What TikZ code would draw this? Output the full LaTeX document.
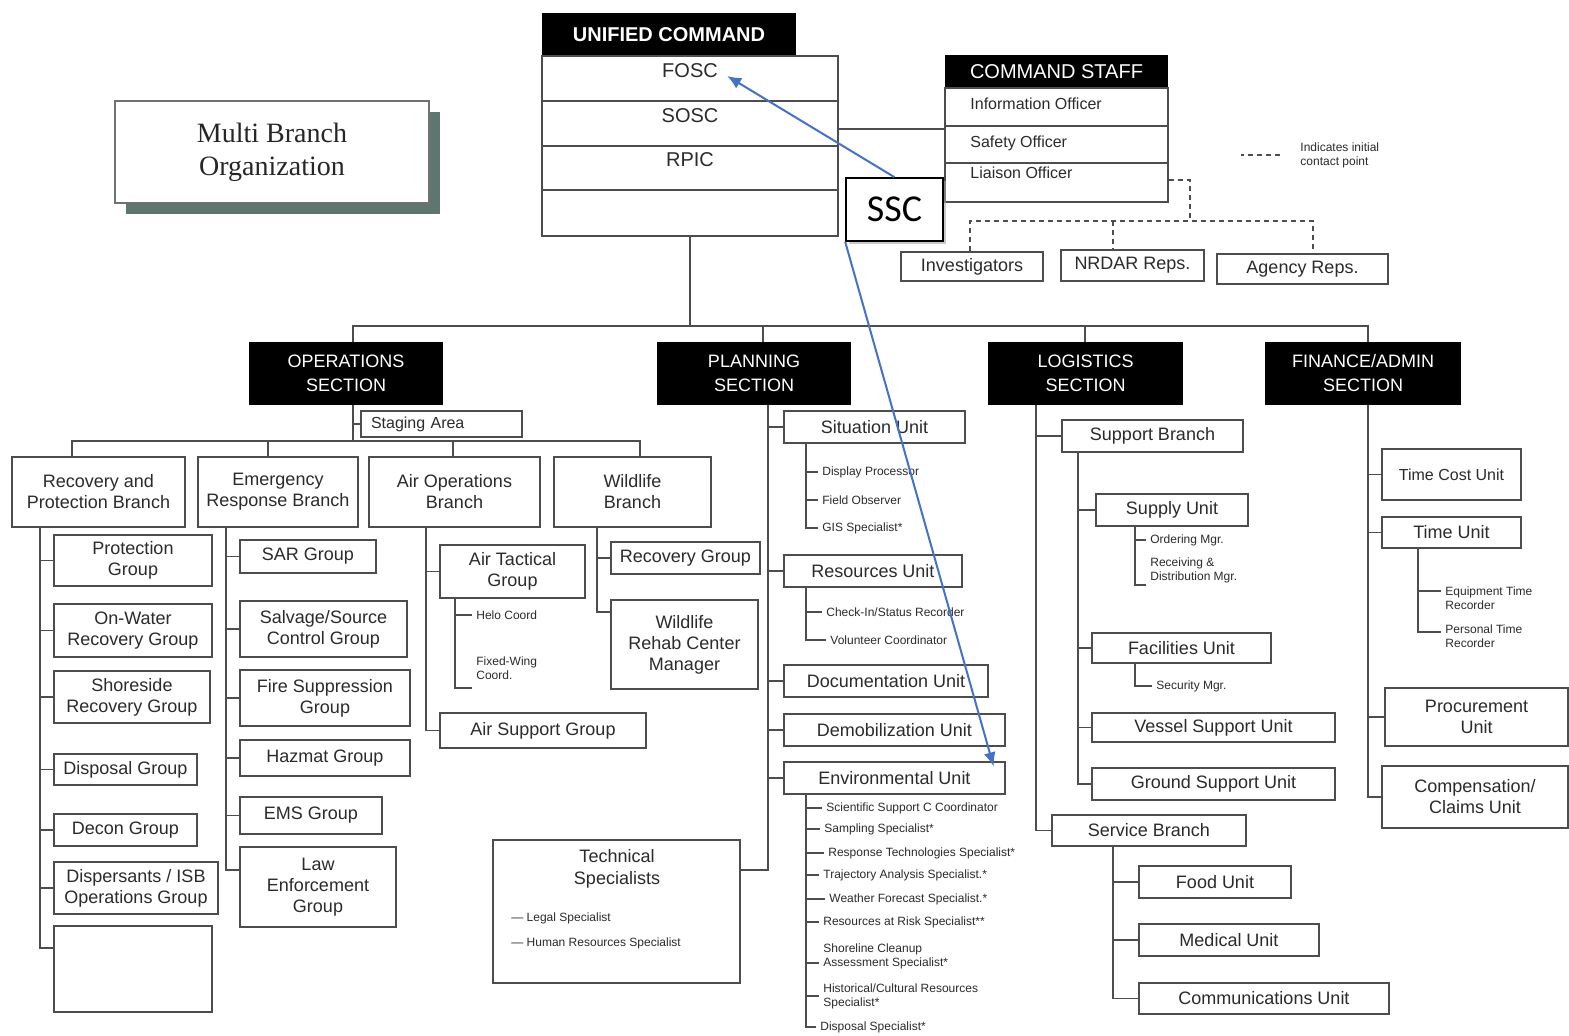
\documentclass[tikz,border=0pt]{standalone}
\usepackage{fontspec}
\setmainfont{Liberation Sans}
\newfontfamily\mbfont{Liberation Serif}
\newfontfamily\sscfont{Carlito}
\usetikzlibrary{arrows.meta,shadows}
\definecolor{ln}{HTML}{4D4D4D}
\definecolor{txt}{HTML}{2B2B2B}
\definecolor{sscblue}{HTML}{4472C4}
\definecolor{mbshade}{HTML}{5F7570}

\begin{document}
\begin{tikzpicture}[%
      x=0.5pt, y=-0.5pt,
      box/.style={draw=ln, line width=0.6pt, fill=white, inner sep=0pt, align=center,
        text=txt, font=\fontsize{9}{10.5}\selectfont},
      hdr/.style={fill=black, inner sep=0pt, align=center, text=white,
        font=\fontsize{9}{12}\selectfont},
      item/.style={anchor=west, inner xsep=2pt, inner ysep=0pt, align=left, text=txt,
        font=\fontsize{6}{7}\selectfont},
      lnk/.style={draw=ln, line width=0.6pt},
      contact/.style={lnk, dash pattern=on 2.5pt off 2pt},
      ssclink/.style={draw=sscblue, line width=1pt, -{Latex[length=7pt,width=6pt]}},
      ]
      \fill[white] (0,0) rectangle (1569,1036);
      \useasboundingbox (0,0) rectangle (1569,1036);

      % title
      \node[box, draw=ln!80, line width=0.8pt, minimum width=157pt, minimum height=51pt,
        font=\mbfont\fontsize{14}{16.5}\selectfont, text=black!85,
        drop shadow={shadow xshift=5.5pt, shadow yshift=-5.5pt, fill=mbshade, opacity=1}]
        (mbo) at (272,152) {Multi Branch\\Organization};

      % unified command
      \node[hdr, minimum width=127pt, minimum height=21.5pt,
        font=\bfseries\fontsize{10}{12}\selectfont] (uc) at (669,34.5) {UNIFIED COMMAND};
      \node[box, minimum width=148pt, minimum height=90pt] (ucb) at (690,146) {};
      \draw[lnk] (ucb.west |- 0,101) -- (ucb.east |- 0,101);
      \draw[lnk] (ucb.west |- 0,146) -- (ucb.east |- 0,146);
      \draw[lnk] (ucb.west |- 0,190) -- (ucb.east |- 0,190);
      \node[text=txt, inner sep=1.5pt, font=\fontsize{10}{12}\selectfont] (fosc) at (690,71) {FOSC};
      \node[text=txt, inner sep=1.5pt, font=\fontsize{10}{12}\selectfont] (sosc) at (690,116) {SOSC};
      \node[text=txt, inner sep=1.5pt, font=\fontsize{10}{12}\selectfont] (rpic) at (690,160) {RPIC};

      % command staff
      \node[hdr, minimum width=111.5pt, minimum height=16.5pt,
        font=\fontsize{10}{12}\selectfont] (cs) at (1056.5,71.5) {COMMAND STAFF};
      \node[box, minimum width=111.5pt, minimum height=57pt] (csb) at (1056.5,145) {};
      \draw[lnk] (csb.west |- 0,126) -- (csb.east |- 0,126);
      \draw[lnk] (csb.west |- 0,163) -- (csb.east |- 0,163);
      \node[item, font=\fontsize{8}{9}\selectfont] (io) at (966,104) {Information Officer};
      \node[item, font=\fontsize{8}{9}\selectfont] (so) at (966,143) {Safety Officer};
      \node[item, font=\fontsize{8}{9}\selectfont] (lo) at (966,173) {Liaison Officer};
      \draw[lnk] (ucb.east |- 0,129) -- (csb.west |- 0,129);

      % SSC
      \node[draw=black, line width=0.8pt, fill=white, minimum width=48.5pt, minimum height=31.5pt,
        inner sep=0pt, font=\sscfont\fontsize{19}{22}\selectfont,
        drop shadow={shadow xshift=1.5pt, shadow yshift=-1.5pt, fill=black!35, opacity=.6}]
        (ssc) at (894.5,209.5) {SSC};

      % initial contact points
      \node[box] [minimum width=71pt, minimum height=14.5pt] (inv) at (972,266.5) {Investigators};
      \node[box] [minimum width=71.5pt, minimum height=15.5pt] (nrd) at (1132.5,265.5) {NRDAR Reps.};
      \node[box] [minimum width=85.5pt, minimum height=15pt] (agr) at (1302.5,269) {Agency Reps.};
      \coordinate (cbus) at (1190,221);
      \draw[contact] (csb.east |- 0,180) -| (cbus);
      \draw[contact] (inv.north -| 970,0) -- (970,221) -- (1313,221) -- (agr.north -| 1313,0);
      \draw[contact] (1113,221) -- (nrd.north -| 1113,0);
      \node[item] (lgd) at (1296,155) {Indicates initial\\contact point};
      \draw[contact] ([xshift=-8pt]lgd.west) -- ++(-19.5pt,0);

      % sections
      \node[hdr, minimum width=97pt, minimum height=31.5pt] (ops) at (346,373.5) {OPERATIONS\\SECTION};
      \node[hdr, minimum width=97pt, minimum height=31.5pt] (pln) at (754,373.5) {PLANNING\\SECTION};
      \node[hdr, minimum width=97.5pt, minimum height=31.5pt] (lgs) at (1085.5,373.5) {LOGISTICS\\SECTION};
      \node[hdr, minimum width=98pt, minimum height=31.5pt] (fin) at (1363,373.5) {FINANCE/ADMIN\\SECTION};
      \draw[lnk] (ucb.south) -- (690,326);
      \draw[lnk] (ops.north -| 353,0) -- (353,326) -- (1368,326) -- (fin.north -| 1368,0);
      \draw[lnk] (pln.north -| 763,0) -- (763,326);
      \draw[lnk] (lgs.north -| 1085,0) -- (1085,326);

      % operations
      \node[box, minimum width=80.5pt, minimum height=13pt, text width=70.5pt, inner xsep=5pt,
        align=left, font=\fontsize{8}{9}\selectfont] (stg) at (441.5,424) {Staging Area};
      \draw[lnk] (ops.south -| 353,0) -- (353,441);
      \draw[lnk] (353,0 |- stg.west) -- (stg.west);
      \node[box, minimum width=86.5pt, minimum height=35pt] (rpb) at (98.5,492) {Recovery and\\Protection Branch};
      \node[box, minimum width=80pt, minimum height=35pt] (erb) at (278,492) {Emergency\\Response Branch};
      \node[box, minimum width=85.5pt, minimum height=35pt] (aob) at (454.5,492) {Air Operations\\Branch};
      \node[box, minimum width=78.5pt, minimum height=35pt] (wlb) at (632.5,492) {Wildlife\\Branch};
      \draw[lnk] (rpb.north -| 72,0) -- (72,441) -- (640,441) -- (wlb.north -| 640,0);
      \draw[lnk] (268,441) -- (erb.north -| 268,0);
      \draw[lnk] (453,441) -- (aob.north -| 453,0);

      \node[box, minimum width=79pt, minimum height=25.5pt] (pg) at (133,560.5) {Protection\\Group};
      \node[box, minimum width=79pt, minimum height=26.5pt] (owr) at (133,630.5) {On-Water\\Recovery Group};
      \node[box, minimum width=78pt, minimum height=26pt] (srg) at (132,697) {Shoreside\\Recovery Group};
      \node[box, minimum width=71.5pt, minimum height=15.5pt] (dg) at (125.5,769.5) {Disposal Group};
      \node[box, minimum width=71.5pt, minimum height=16pt] (dcg) at (125.5,830) {Decon Group};
      \node[box, minimum width=82pt, minimum height=26pt] (dis) at (136,888) {Dispersants / ISB\\Operations Group};
      \node[box, minimum width=79pt, minimum height=43pt] (e1) at (133,969) {};
      \draw[lnk] (rpb.south -| 40,0) -- (40,948) -- (e1.west |- 0,948);
      \draw[lnk] (40,0 |- pg.west) -- (pg.west);
      \draw[lnk] (40,0 |- owr.west) -- (owr.west);
      \draw[lnk] (40,0 |- srg.west) -- (srg.west);
      \draw[lnk] (40,0 |- dg.west) -- (dg.west);
      \draw[lnk] (40,0 |- dcg.west) -- (dcg.west);
      \draw[lnk] (40,0 |- dis.west) -- (dis.west);

      \node[box, minimum width=68pt, minimum height=16.5pt] (sar) at (308,556.5) {SAR Group};
      \node[box, minimum width=83.5pt, minimum height=28pt] (ssg) at (323.5,629) {Salvage/Source\\Control Group};
      \node[box, minimum width=85pt, minimum height=28pt] (fsg) at (325,698) {Fire Suppression\\Group};
      \node[box, minimum width=85pt, minimum height=18pt] (hzg) at (325,758) {Hazmat Group};
      \node[box, minimum width=71pt, minimum height=18.5pt] (ems) at (311,815.5) {EMS Group};
      \node[box, minimum width=78pt, minimum height=40pt] (lef) at (318,887) {Law\\Enforcement\\Group};
      \draw[lnk] (erb.south -| 226,0) -- (226,870) -- (lef.west |- 0,870);
      \draw[lnk] (226,0 |- sar.west) -- (sar.west);
      \draw[lnk] (226,0 |- ssg.west) -- (ssg.west);
      \draw[lnk] (226,0 |- fsg.west) -- (fsg.west);
      \draw[lnk] (226,0 |- hzg.west) -- (hzg.west);
      \draw[lnk] (226,0 |- ems.west) -- (ems.west);

      \node[box, minimum width=72.5pt, minimum height=26.5pt] (atg) at (512.5,571.5) {Air Tactical\\Group};
      \node[box, minimum width=103pt, minimum height=17.5pt] (asg) at (543,730.5) {Air Support Group};
      \draw[lnk] (aob.south -| 426,0) -- (426,0 |- asg.west) -- (asg.west);
      \draw[lnk] (426,0 |- atg.west) -- (atg.west);
      \node[item] (hc) at (472,615) {Helo Coord};
      \node[item] (fwc) at (472,668) {Fixed-Wing\\Coord.};
      \draw[lnk] (atg.south -| 455,0) -- (455,688) -- (fwc.west |- 0,688);
      \draw[lnk] (455,0 |- hc.west) -- (hc.west);

      \node[box, minimum width=74.5pt, minimum height=16pt] (rg) at (685.5,558) {Recovery Group};
      \node[box, minimum width=73.5pt, minimum height=44.5pt] (wrc) at (684.5,644.5) {Wildlife\\Rehab Center\\Manager};
      \draw[lnk] (wlb.south -| 597,0) -- (597,612) -- (wrc.west |- 0,612);
      \draw[lnk] (597,0 |- rg.west) -- (rg.west);

      % planning
      \node[box, minimum width=90.5pt, minimum height=16pt] (su) at (874.5,427) {Situation Unit};
      \node[box, minimum width=89pt, minimum height=16pt] (ru) at (873,571) {Resources Unit};
      \node[box, minimum width=102pt, minimum height=16pt] (du) at (886,681) {Documentation Unit};
      \node[box, minimum width=110.5pt, minimum height=16pt] (dmu) at (894.5,730) {Demobilization Unit};
      \node[box, minimum width=110.5pt, minimum height=16pt] (env) at (894.5,778) {Environmental Unit};
      \node[box, minimum width=123.5pt, minimum height=71.5pt] (tsp) at (616.5,911.5) {};
      \node[text=txt, align=center, inner sep=0pt, font=\fontsize{9}{11}\selectfont] (tst) at (617,869) {Technical\\Specialists};
      \node[item] (lsp) at (507,918) {— Legal Specialist};
      \node[item] (hrs) at (507,943) {— Human Resources Specialist};
      \draw[lnk] (pln.south -| 768,0) -- (768,870) -- (tsp.east |- 0,870);
      \draw[lnk] (768,0 |- su.west) -- (su.west);
      \draw[lnk] (768,0 |- ru.west) -- (ru.west);
      \draw[lnk] (768,0 |- du.west) -- (du.west);
      \draw[lnk] (768,0 |- dmu.west) -- (dmu.west);
      \draw[lnk] (768,0 |- env.west) -- (env.west);

      \node[item] (dpp) at (818,472) {Display Processor};
      \node[item] (fob) at (818,500) {Field Observer};
      \node[item] (gis) at (818,528) {GIS Specialist*};
      \draw[lnk] (su.south -| 806,0) -- (806,0 |- gis.west) -- (gis.west);
      \draw[lnk] (806,0 |- dpp.west) -- (dpp.west);
      \draw[lnk] (806,0 |- fob.west) -- (fob.west);

      \node[item] (cis) at (822,612) {Check-In/Status Recorder};
      \node[item] (vco) at (826,640) {Volunteer Coordinator};
      \draw[lnk] (ru.south -| 806,0) -- (806,0 |- vco.west) -- (vco.west);
      \draw[lnk] (806,0 |- cis.west) -- (cis.west);

      \node[item] (ssco) at (822,808) {Scientific Support C Coordinator};
      \node[item] (smp) at (820,829) {Sampling Specialist*};
      \node[item] (rts) at (824,853) {Response Technologies Specialist*};
      \node[item] (tas) at (819,875) {Trajectory Analysis Specialist.*};
      \node[item] (wfs) at (825,899) {Weather Forecast Specialist.*};
      \node[item] (rar) at (819,922) {Resources at Risk Specialist**};
      \node[item] (sca) at (819,956) {Shoreline Cleanup\\Assessment  Specialist*};
      \node[item] (hcr) at (819,996) {Historical/Cultural Resources\\Specialist*};
      \node[item] (dsp) at (816,1027) {Disposal Specialist*};
      \draw[lnk] (env.south -| 806,0) -- (806,0 |- dsp.west) -- (dsp.west);
      \draw[lnk] (806,0 |- ssco.west) -- (ssco.west);
      \draw[lnk] (806,0 |- smp.west) -- (smp.west);
      \draw[lnk] (806,0 |- rts.west) -- (rts.west);
      \draw[lnk] (806,0 |- tas.west) -- (tas.west);
      \draw[lnk] (806,0 |- wfs.west) -- (wfs.west);
      \draw[lnk] (806,0 |- rar.west) -- (rar.west);
      \draw[lnk] (806,963) -- (sca.west |- 0,963);
      \draw[lnk] (806,0 |- hcr.west) -- (hcr.west);

      % logistics
      \node[box, minimum width=90.5pt, minimum height=16pt] (sbr) at (1152.5,436) {Support Branch};
      \node[box, minimum width=97pt, minimum height=15.5pt] (svb) at (1149,830.5) {Service Branch};
      \draw[lnk] (lgs.south -| 1036,0) -- (1036,0 |- svb.west) -- (svb.west);
      \draw[lnk] (1036,0 |- sbr.west) -- (sbr.west);

      \node[box, minimum width=76pt, minimum height=16pt] (sup) at (1172,510) {Supply Unit};
      \node[box, minimum width=89.5pt, minimum height=15pt] (fac) at (1181.5,648) {Facilities Unit};
      \node[box, minimum width=121.5pt, minimum height=14.5pt] (vsu) at (1213.5,727.5) {Vessel Support Unit};
      \node[box, minimum width=121.5pt, minimum height=16pt] (gsu) at (1213.5,784) {Ground Support Unit};
      \draw[lnk] (sbr.south -| 1078,0) -- (1078,0 |- gsu.west) -- (gsu.west);
      \draw[lnk] (1078,0 |- sup.west) -- (sup.west);
      \draw[lnk] (1078,0 |- fac.west) -- (fac.west);
      \draw[lnk] (1078,0 |- vsu.west) -- (vsu.west);

      \node[item] (omg) at (1146,540) {Ordering Mgr.};
      \node[item] (rdm) at (1146,570) {Receiving \&\\Distribution Mgr.};
      \draw[lnk] (sup.south -| 1135,0) -- (1135,585) -- (rdm.west |- 0,585);
      \draw[lnk] (1135,0 |- omg.west) -- (omg.west);
      \node[item] (smg) at (1152,686) {Security Mgr.};
      \draw[lnk] (fac.south -| 1135,0) -- (1135,0 |- smg.west) -- (smg.west);

      \node[box, minimum width=76pt, minimum height=16pt] (food) at (1215,882) {Food Unit};
      \node[box, minimum width=90pt, minimum height=16pt] (med) at (1229,940) {Medical Unit};
      \node[box, minimum width=125pt, minimum height=15.5pt] (com) at (1264,998.5) {Communications Unit};
      \draw[lnk] (svb.south -| 1113,0) -- (1113,0 |- com.west) -- (com.west);
      \draw[lnk] (1113,0 |- food.west) -- (food.west);
      \draw[lnk] (1113,0 |- med.west) -- (med.west);

      % finance / admin
      \node[box, minimum width=69.5pt, minimum height=25.5pt, font=\fontsize{8}{9.5}\selectfont] (tcu) at (1451.5,474.5) {Time Cost Unit};
      \node[box, minimum width=69.5pt, minimum height=15.5pt] (tu) at (1451.5,532.5) {Time Unit};
      \node[box, minimum width=91.5pt, minimum height=29pt] (prc) at (1476.5,717) {Procurement\\Unit};
      \node[box, minimum width=93pt, minimum height=31pt] (ccu) at (1475,797) {Compensation/\\Claims Unit};
      \draw[lnk] (fin.south -| 1368,0) -- (1368,0 |- ccu.west) -- (ccu.west);
      \draw[lnk] (1368,0 |- tcu.west) -- (tcu.west);
      \draw[lnk] (1368,0 |- tu.west) -- (tu.west);
      \draw[lnk] (1368,0 |- prc.west) -- (prc.west);

      \node[item] (etr) at (1441,598.5) {Equipment Time\\Recorder};
      \node[item] (ptr) at (1441,636) {Personal Time\\Recorder};
      \draw[lnk] (tu.south -| 1418,0) -- (1418,632) -- (ptr.west |- 0,632);
      \draw[lnk] (1418,591) -- (etr.west |- 0,591);

      % SSC links
      \draw[ssclink] (ssc.north) -- ([xshift=3pt,yshift=-2.5pt]fosc.east);
      \draw[ssclink] (ssc.south west) -- ([xshift=-6pt,yshift=-2.5pt]env.north east);
      \end{tikzpicture}
\end{document}
